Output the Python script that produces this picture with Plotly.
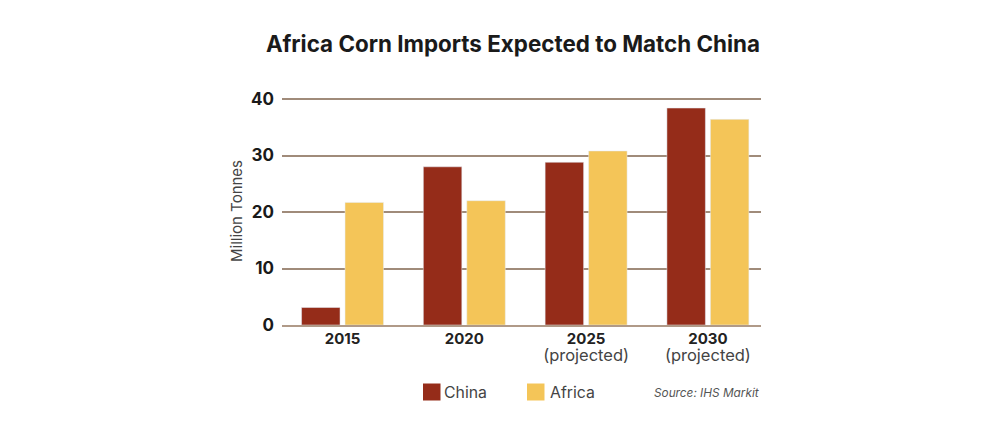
import plotly.graph_objects as go

years = ["2015", "2020", "2025", "2030"]
yr = '<span style="font-size:15px;font-weight:700">%s</span>'
proj = '<br><span style="font-size:16.5px;font-weight:400;color:#444444">(projected)</span>'
tick_labels = [yr % "2015", yr % "2020", yr % "2025" + proj, yr % "2030" + proj]
china = [3.1, 28.0, 28.8, 38.4]
africa = [21.7, 22.0, 30.8, 36.4]
CHINA_C = "#952c19"
AFRICA_C = "#f4c558"
FONT = "Inter"

# page has an 8px body margin, so the figure is 992x422
W, H = 992, 422
L, R, T, B = 274, 239, 89, 105
PW, PH = W - L - R, H - T - B


def px(x):  # absolute page x -> paper
    return (x - 8 - L) / PW


def py(y):  # absolute page y -> paper
    return (H - B + 8 - y) / PH


fig = go.Figure()
fig.add_bar(x=years, y=china, name="China", marker_color=CHINA_C)
fig.add_bar(x=years, y=africa, name="Africa", marker_color=AFRICA_C)

shapes = []
annotations = [dict(text="<i>Source: IHS Markit</i>", xref="paper", yref="paper",
                    x=px(761), y=py(393), xanchor="right", yanchor="middle",
                    showarrow=False, font=dict(size=11.8, color="#555555"))]
for name, col, x0, tx in (("China", CHINA_C, 423, 444), ("Africa", AFRICA_C, 527, 550)):
    shapes.append(dict(type="rect", xref="paper", yref="paper", x0=px(x0), x1=px(x0 + 17.5),
                       y0=py(400.5), y1=py(383.5), fillcolor=col, line_width=0))
    annotations.append(dict(text=name, xref="paper", yref="paper", x=px(tx), y=py(392),
                            xanchor="left", yanchor="middle", showarrow=False, xshift=-2,
                            font=dict(size=15.8, color="#444444")))

fig.update_layout(
    width=W, height=H, autosize=False,
    margin=dict(l=L, r=R, t=T, b=B),
    paper_bgcolor="white", plot_bgcolor="white",
    barmode="group", bargap=0.286, bargroupgap=0.115,
    showlegend=False,
    font=dict(family=FONT, color="#222222"),
    title=dict(text="<b>Africa Corn Imports Expected to Match China</b>",
               x=0.26, xanchor="left", y=0.915, yanchor="middle",
               font=dict(size=22.4, color="#1a1a1a", family=FONT)),
    xaxis=dict(type="category", categoryorder="array", categoryarray=years,
               tickmode="array", tickvals=years, ticktext=tick_labels,
               range=[-0.497, 3.436], showgrid=False, ticks="",
               showline=True, linecolor="#b09a88", linewidth=2,
               ticklabelstandoff=1,
               tickfont=dict(size=13, color="#222222")),
    yaxis=dict(range=[0, 40.354], tickvals=[0, 10, 20, 30, 40], showgrid=True,
               gridcolor="#a08b7a", gridwidth=1.5, zeroline=False, ticks="",
               ticklabelstandoff=7, tickfont=dict(size=17, color="#1a1a1a", weight="bold"),
               title=dict(text="Million Tonnes", standoff=4,
                          font=dict(size=15, color="#444444"))),
    shapes=shapes,
    annotations=annotations,
)
fig.write_html("out.html")
